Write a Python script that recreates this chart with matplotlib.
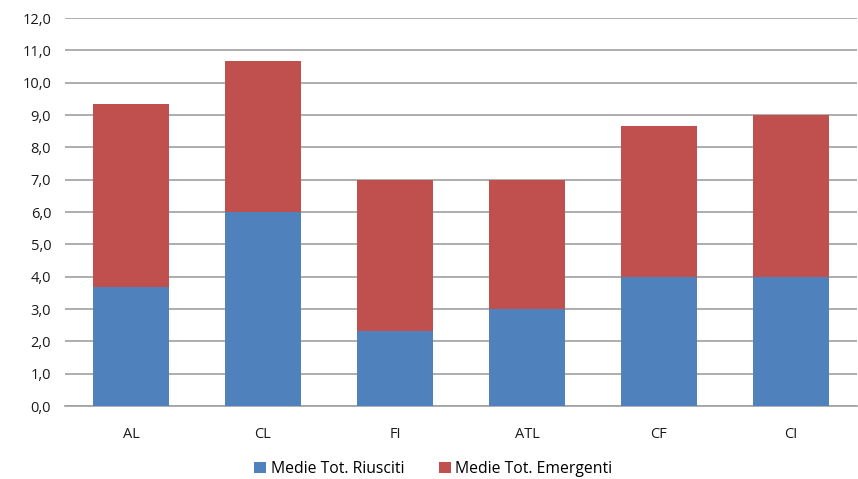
import matplotlib.pyplot as plt
import numpy as np

categories = ["AL", "CL", "FI", "ATL", "CF", "CI"]
riusciti = [3.67, 6.0, 2.33, 3.0, 4.0, 4.0]
emergenti = [5.67, 4.67, 4.67, 4.0, 4.67, 5.0]
yticks = np.arange(0, 13, 1)

plt.rcParams['font.family'] = ['Open Sans', 'DejaVu Sans']

fig = plt.figure(figsize=(8.58, 4.79), dpi=100)
ax = fig.add_axes([0.0758, 0.1524, 0.923, 0.81])

x = np.arange(len(categories))
w = 0.57
ax.bar(x, riusciti, w, color="#4F81BD", label="Medie Tot. Riusciti", zorder=3)
ax.bar(x, emergenti, w, bottom=riusciti, color="#C0504D",
       label="Medie Tot. Emergenti", zorder=3)

ax.set_xlim(-0.5, len(categories) - 0.5)
ax.set_ylim(0, 12)
ax.set_yticks(yticks)
ax.set_yticklabels([f"{v:.1f}".replace(".", ",") for v in yticks])
ax.set_xticks(x)
ax.set_xticklabels(categories)
ax.tick_params(length=0, labelsize=10.5, colors="#1a1a1a")
ax.tick_params(axis="y", pad=10)
ax.tick_params(axis="x", pad=15)

ax.grid(axis="y", color="#a0a0a0", linewidth=1.2, zorder=0)
for s in ["left", "right", "top"]:
    ax.spines[s].set_visible(False)
ax.spines["bottom"].set_color("#a0a0a0")
ax.spines["bottom"].set_linewidth(1.2)

ax.legend(loc="upper center", bbox_to_anchor=(0.465, -0.105), ncol=2, frameon=False,
          fontsize=11.3, handlelength=0.75, handleheight=0.75, handletextpad=0.3,
          columnspacing=2.2)

fig.savefig("out.png", dpi=100)
